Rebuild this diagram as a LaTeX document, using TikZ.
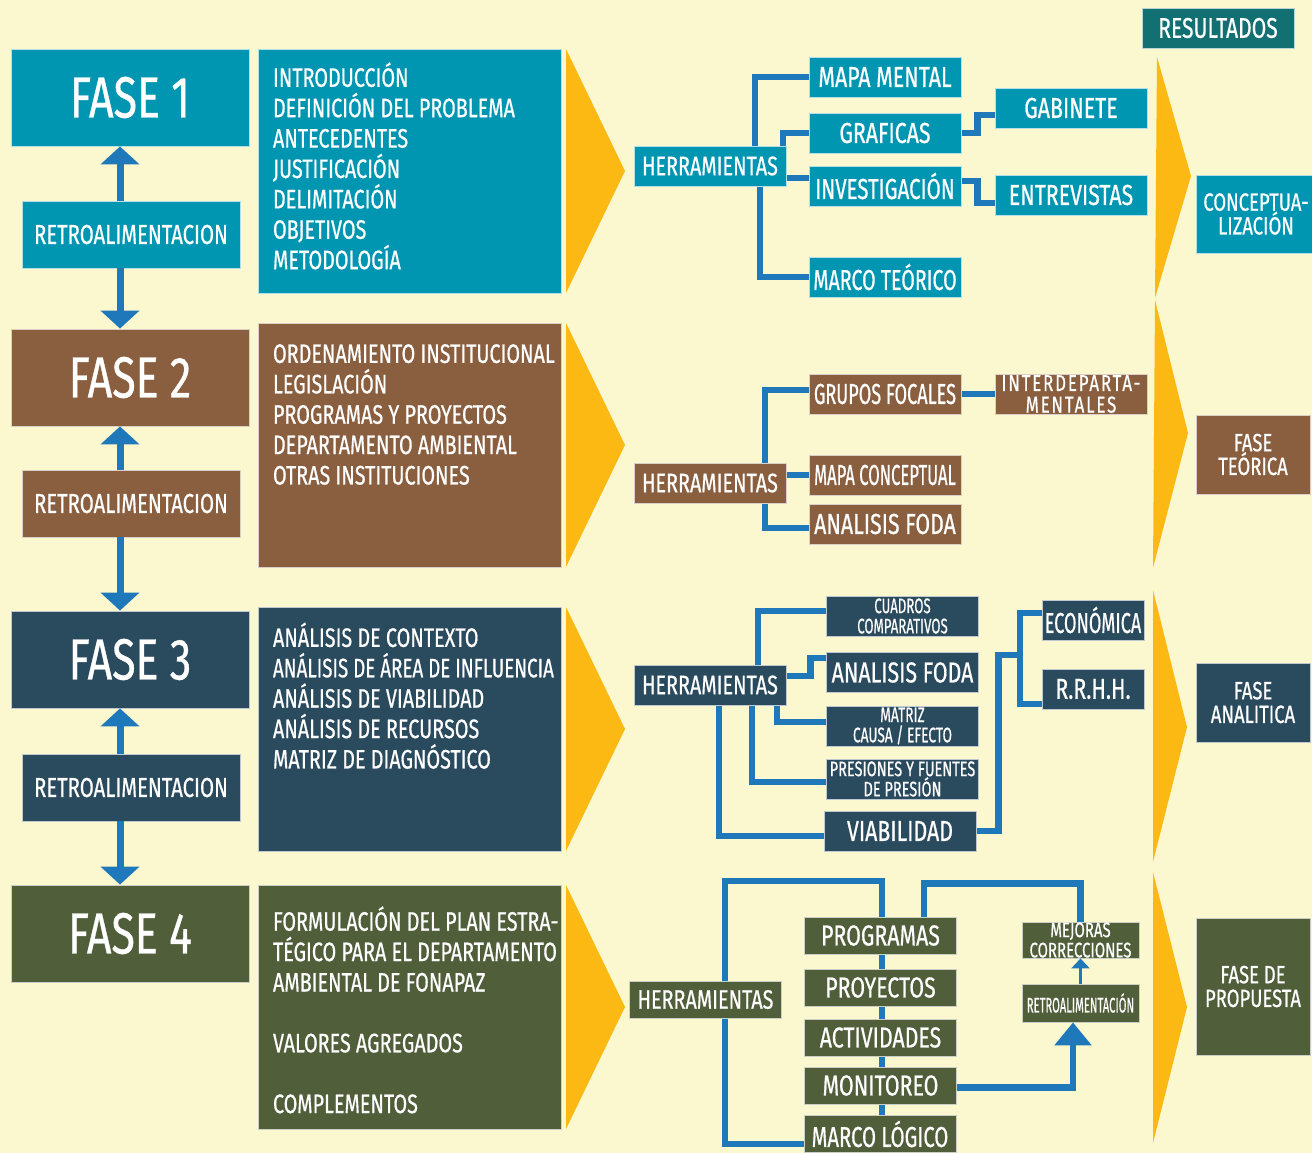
\documentclass[tikz,border=0pt]{standalone}
\usepackage{fontspec}
\setmainfont{Fira Sans}[FakeStretch=0.74, FakeBold=0.6]
\usetikzlibrary{arrows.meta,positioning,calc}
\definecolor{paper}{HTML}{FBF7CE}
\definecolor{fone}{HTML}{0096B2}
\definecolor{ftwo}{HTML}{8A5F40}
\definecolor{fthree}{HTML}{2A4A5E}
\definecolor{ffour}{HTML}{505E3A}
\definecolor{linkc}{HTML}{1E78B9}
\definecolor{chev}{HTML}{FDB913}
\definecolor{resc}{HTML}{127072}
\pgfdeclarelayer{back}
\pgfsetlayers{back,main}
\newcommand{\fs}[2]{\fontsize{#1}{#2}\selectfont}
\newcommand{\sq}[2]{\scalebox{#1}[1]{#2}}
\newcommand{\ctext}[2]{\parbox[c][4.88cm][t]{6.06cm}{\raggedright\leftskip=0.3cm\relax
  \vspace*{#1}\rule{0pt}{14pt}#2}}

\begin{document}
\begin{tikzpicture}[x=0.02cm, y=-0.02cm,
  box/.style={fill=#1, draw=white!70!#1, line width=0.5pt, inner sep=0pt, align=center, text=white},
  fase/.style={box=#1, minimum width=4.76cm, minimum height=1.94cm, font=\fs{33}{36}},
  retro/.style={box=#1, minimum width=4.36cm, minimum height=1.34cm, font=\fs{15.6}{17}},
  content/.style={box=#1, minimum width=6.06cm, minimum height=4.88cm, font=\fs{15.2}{17.3}},
  tool/.style={box=#1, minimum width=3.04cm, minimum height=0.8cm, font=\fs{16.4}{17}},
  herr/.style={tool=#1, font=\fs{15.2}{16}},
  small/.style={font=\fs{12}{11.5}},
  result/.style={box=#1, minimum width=2.28cm, font=\fs{14.2}{13.5}},
  link/.style={linkc, line width=3.8pt},
  updown/.style={linkc, line width=0.14cm, -{Triangle[width=0.76cm,length=0.36cm]}}]
\useasboundingbox (0,0) rectangle (1312,1153);
\begin{pgfonlayer}{back}
\fill[paper] (0,0) rectangle (1312,1153);
\end{pgfonlayer}

% ---- chevrons
\fill[chev] (566,49) -- (625,171) -- (566,293) -- cycle;
\fill[chev] (566,323) -- (625,445) -- (566,567) -- cycle;
\fill[chev] (566,607) -- (625,729) -- (566,851) -- cycle;
\fill[chev] (566,885) -- (625,1007) -- (566,1129) -- cycle;
\fill[chev] (1157,57) -- (1191,176) -- (1155,298) -- cycle;
\fill[chev] (1155,300) -- (1188,433) -- (1153,568) -- cycle;
\fill[chev] (1153,590) -- (1187,727) -- (1153,862) -- cycle;
\fill[chev] (1153,872) -- (1187,1007) -- (1153,1143) -- cycle;

% ---- left column
\node[fase=fone] (f1) at (130,97.5) {FASE 1};
\node[retro=fone] (r1) at (131,234.5) {RETROALIMENTACION};
\node[fase=ftwo] (f2) at (130,377.5) {FASE 2};
\node[retro=ftwo] (r2) at (131,503.5) {RETROALIMENTACION};
\node[fase=fthree] (f3) at (130,659.5) {FASE 3};
\node[retro=fthree] (r3) at (131,787.5) {RETROALIMENTACION};
\node[fase=ffour] (f4) at (130,933.5) {FASE 4};

\draw[updown] ([xshift=-0.22cm]r1.north) -- ([xshift=-0.2cm]f1.south);
\draw[updown] ([xshift=-0.22cm]r1.south) -- ([xshift=-0.2cm]f2.north);
\draw[updown] ([xshift=-0.22cm]r2.north) -- ([xshift=-0.2cm]f2.south);
\draw[updown] ([xshift=-0.22cm]r2.south) -- ([xshift=-0.2cm]f3.north);
\draw[updown] ([xshift=-0.22cm]r3.north) -- ([xshift=-0.2cm]f3.south);
\draw[updown] ([xshift=-0.22cm]r3.south) -- ([xshift=-0.2cm]f4.north);

% ---- contents
\node[content=fone] (c1) at (409.5,171) {\ctext{7.5pt}{INTRODUCCIÓN\\DEFINICIÓN DEL PROBLEMA\\ANTECEDENTES\\JUSTIFICACIÓN\\DELIMITACIÓN\\OBJETIVOS\\METODOLOGÍA}};
\node[content=ftwo] (c2) at (409.5,445) {\ctext{8.7pt}{\mbox{ORDENAMIENTO INSTITUCIONAL}\\LEGISLACIÓN\\PROGRAMAS Y PROYECTOS\\DEPARTAMENTO AMBIENTAL\\OTRAS INSTITUCIONES}};
\node[content=fthree] (c3) at (409.5,729) {\ctext{8.7pt}{ANÁLISIS DE CONTEXTO\\\sq{0.95}{ANÁLISIS DE ÁREA DE INFLUENCIA}\\ANÁLISIS DE VIABILIDAD\\ANÁLISIS DE RECURSOS\\MATRIZ DE DIAGNÓSTICO}};
\node[content=ffour] (c4) at (409.5,1007) {\ctext{12pt}{\mbox{FORMULACIÓN DEL PLAN ESTRA-}\\\mbox{TÉGICO PARA EL DEPARTAMENTO}\\AMBIENTAL DE FONAPAZ\\[17.3pt]VALORES AGREGADOS\\[17.3pt]COMPLEMENTOS}};

% ---- phase 1 tools
\node[herr=fone] (h1) at (710,166) {HERRAMIENTAS};
\node[tool=fone] (mapa) at (885,77) {MAPA MENTAL};
\node[tool=fone] (graf) at (885,133) {GRAFICAS};
\node[tool=fone] (inv) at (885,186) {\sq{0.96}{INVESTIGACIÓN}};
\node[tool=fone] (marco) at (885,277) {\sq{0.92}{MARCO TEÓRICO}};
\node[tool=fone] (gab) at (1071,108) {GABINETE};
\node[tool=fone] (entr) at (1071,195) {ENTREVISTAS};

% ---- phase 2 tools
\node[herr=ftwo] (h2) at (710,483) {HERRAMIENTAS};
\node[tool=ftwo] (grup) at (885,394) {\sq{0.85}{GRUPOS FOCALES}};
\node[tool=ftwo, font=\fs{13}{12.3}\addfontfeature{LetterSpace=8}] (inter) at (1071,394) {INTERDEPARTA-\\MENTALES};
\node[tool=ftwo] (mapac) at (885,475) {\sq{0.78}{MAPA CONCEPTUAL}};
\node[tool=ftwo] (foda2) at (885,524) {ANALISIS FODA};

% ---- phase 3 tools
\node[herr=fthree] (h3) at (710,685) {HERRAMIENTAS};
\node[tool=fthree, small] (cuad) at (902.5,616) {\sq{0.85}{CUADROS}\\\sq{0.85}{COMPARATIVOS}};
\node[tool=fthree] (foda3) at (902.5,672.5) {ANALISIS FODA};
\node[tool=fthree, small] (matriz) at (902.5,726) {\sq{0.88}{MATRIZ}\\\sq{0.88}{CAUSA / EFECTO}};
\node[tool=fthree, small] (pres) at (902.5,779) {\sq{0.93}{PRESIONES Y FUENTES}\\\sq{0.93}{DE PRESIÓN}};
\node[tool=fthree] (viab) at (900,831) {VIABILIDAD};
\node[tool=fthree, minimum width=2.04cm] (econ) at (1093,620) {\sq{0.85}{ECONÓMICA}};
\node[tool=fthree, minimum width=2.04cm] (rrhh) at (1093,689) {R.R.H.H.};
\coordinate (vj) at (1020,655);

% ---- phase 4 tools
\node[herr=ffour, minimum height=0.74cm] (h4) at (705.5,999.5) {HERRAMIENTAS};
\node[tool=ffour, minimum height=0.74cm] (prog) at (880.5,935.5) {PROGRAMAS};
\node[tool=ffour, minimum height=0.74cm] (proy) at (880.5,987.5) {PROYECTOS};
\node[tool=ffour, minimum height=0.74cm] (act) at (880.5,1037.5) {ACTIVIDADES};
\node[tool=ffour, minimum height=0.74cm] (mon) at (880.5,1085.5) {MONITOREO};
\node[tool=ffour, minimum height=0.74cm] (marcol) at (880,1134) {\sq{0.95}{MARCO LÓGICO}};
\node[tool=ffour, small, minimum width=2.34cm, minimum height=0.72cm] (mej) at (1080.5,940) {\sq{0.96}{MEJORAS}\\\sq{0.96}{CORRECCIONES}};
\node[tool=ffour, small, minimum width=2.34cm, minimum height=0.76cm] (rt4) at (1080.5,1003) {\sq{0.72}{RETROALIMENTACIÓN}};
\coordinate (loop4) at (882,881);

% ---- results
\node[box=resc, minimum width=3.04cm, minimum height=0.8cm, font=\fs{16.2}{17}] (resul) at (1218,28) {RESULTADOS};
\node[result=fone, minimum width=2.4cm, minimum height=1.56cm] (res1) at (1256,214) {CONCEPTUA-\\LIZACIÓN};
\node[result=ftwo, minimum height=1.58cm] (res2) at (1253,454.5) {FASE\\TEÓRICA};
\node[result=fthree, minimum height=1.58cm] (res3) at (1253,702.5) {FASE\\ANALITICA};
\node[result=ffour, minimum height=2.74cm] (res4) at (1253,986.5) {FASE DE\\PROPUESTA};

% ---- connectors
\begin{pgfonlayer}{back}
\draw[link] ([xshift=0.9cm]h1.north) |- (mapa.west);
\draw[link] ([xshift=1.46cm]h1.north) |- (graf.west);
\draw[link] ([yshift=0.16cm]inv.west) -- ++(-0.46cm,0);
\draw[link] ([xshift=1.0cm]h1.south) |- (marco.west);
\draw[link] (graf.east) -- ++(0.32cm,0) |- ([yshift=-0.14cm]gab.west);
\draw[link] ([yshift=0.1cm]inv.east) -- ++(0.32cm,0) |- ([yshift=-0.16cm]entr.west);

\draw[link] ([xshift=1.1cm]h2.north) |- ([yshift=0.08cm]grup.west);
\draw[link] (grup.east) -- (inter.west);
\draw[link] (mapac.west) -- (mapac.west -| h2.east);
\draw[link] ([xshift=1.1cm]h2.south) |- ([yshift=-0.08cm]foda2.west);

\draw[link] ([xshift=0.96cm]h3.north) |- ([yshift=0.1cm]cuad.west);
\draw[link] ([yshift=0.18cm]h3.east) -- ++(0.48cm,0) |- ([yshift=0.29cm]foda3.west);
\draw[link] ([xshift=1.34cm]h3.south) |- ([yshift=0.08cm]matriz.west);
\draw[link] ([xshift=0.84cm]h3.south) |- ([yshift=-0.06cm]pres.west);
\draw[link] ([xshift=0.18cm]h3.south) |- ([yshift=-0.1cm]viab.west);
\draw[link] (viab.east) -- ++(0.44cm,0) |- (vj);
\draw[link] ([yshift=0.14cm]econ.west) -| (vj) |- ([yshift=-0.3cm]rrhh.west);

\draw[link] ([xshift=0.39cm]h4.north) |- (loop4) -- (loop4 |- marcol.north);
\draw[link] ([xshift=0.39cm]h4.south) |- ([yshift=-0.2cm]marcol.west);
\draw[link] ([xshift=0.87cm]prog.north) -- ++(0,0.66cm) -| (mej.north);
\end{pgfonlayer}
\draw[link, -{Triangle[width=0.72cm,length=0.46cm]}] ([yshift=-0.04cm]mon.east) -| ([xshift=-0.15cm]rt4.south);
\draw[linkc, line width=1.6pt, -{Triangle[width=0.36cm,length=0.2cm]}] (rt4.north) -- (mej.south);
\end{tikzpicture}
\end{document}
